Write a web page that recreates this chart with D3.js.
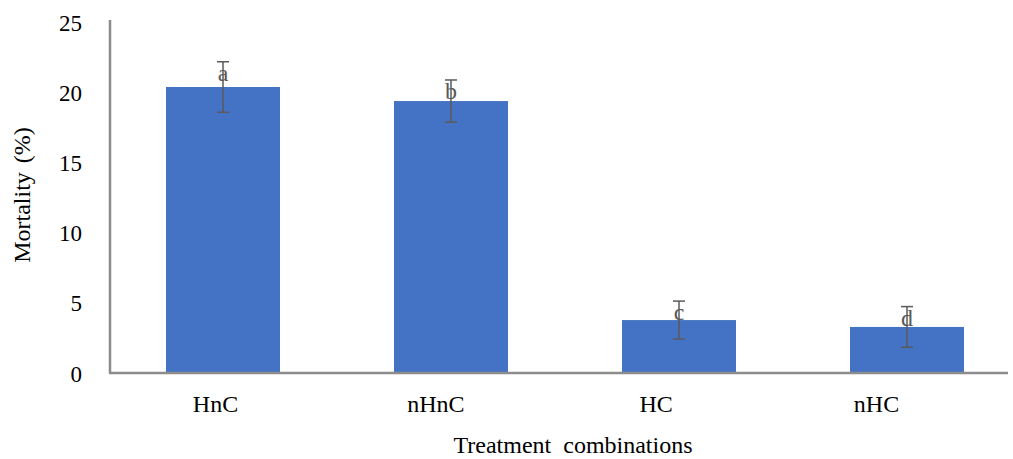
<!DOCTYPE html>
<html><head><meta charset="utf-8">
<script src="https://cdn.jsdelivr.net/npm/d3@7"></script>
<style>body{margin:0;background:#fff}</style>
</head><body>
<svg id="c" width="1013" height="459"></svg>
<script>
const categories = ["HnC", "nHnC", "HC", "nHC"];
const mortality = [20.37, 19.37, 3.77, 3.28];
const errors = [1.8, 1.5, 1.35, 1.45];
const letters = ["a", "b", "c", "d"];
const yTicks = [0, 5, 10, 15, 20, 25];

const svg = d3.select("#c");
const font = "'Liberation Serif','Times New Roman',serif";
const x = d3.scaleBand().domain(categories).range([109, 1021]).paddingInner(0.5).paddingOuter(0.25);
const xLab = d3.scalePoint().domain(categories).range([215, 876]);
const y = d3.scaleLinear().domain([0, 25]).range([373, 22]);

// bars
svg.selectAll("rect.bar").data(categories).join("rect")
  .attr("x", d => x(d)).attr("width", x.bandwidth())
  .attr("y", (d, i) => y(mortality[i]))
  .attr("height", (d, i) => y(0) - y(mortality[i]))
  .attr("fill", "#4472C4");

// axes
const yAxis = svg.append("g").attr("transform", "translate(110,0)")
  .call(d3.axisLeft(y).tickValues(yTicks).tickSize(0).tickPadding(28));
yAxis.select(".domain").attr("stroke", "#8c8c8c").attr("stroke-width", 2.5).attr("d", "M0,20V373");
yAxis.selectAll("text").attr("font-family", font).attr("font-size", 23).attr("fill", "#000").attr("dy", "0.35em");

const xAxis = svg.append("g").attr("transform", "translate(0,373)")
  .call(d3.axisBottom(xLab).tickSize(0).tickPadding(22));
xAxis.select(".domain").attr("stroke", "#8c8c8c").attr("stroke-width", 2.5).attr("d", "M109,0H1008");
xAxis.selectAll("text").attr("font-family", font).attr("font-size", 24).attr("fill", "#000");

// error bars
const cx = d => x(d) + x.bandwidth() / 2;
const eb = svg.append("g").attr("stroke", "#5a5a5a").attr("stroke-width", 1.5);
categories.forEach((d, i) => {
  const t = y(mortality[i] + errors[i]), b = y(mortality[i] - errors[i]);
  eb.append("line").attr("x1", cx(d)).attr("x2", cx(d)).attr("y1", t).attr("y2", b);
  eb.append("line").attr("x1", cx(d) - 6).attr("x2", cx(d) + 6).attr("y1", t).attr("y2", t);
  eb.append("line").attr("x1", cx(d) - 6).attr("x2", cx(d) + 6).attr("y1", b).attr("y2", b);
});

// letters
svg.selectAll("text.lt").data(categories).join("text")
  .attr("x", d => cx(d)).attr("y", (d, i) => y(mortality[i] + errors[i]) + 19)
  .attr("text-anchor", "middle").attr("font-family", font).attr("font-size", 24)
  .attr("fill", "#595959").text((d, i) => letters[i]);

// titles
svg.append("text").attr("transform", "translate(30,195) rotate(-90)")
  .attr("text-anchor", "middle").attr("font-family", font).attr("font-size", 24)
  .attr("word-spacing", 3).text("Mortality (%)");
svg.append("text").attr("x", 573).attr("y", 453)
  .attr("text-anchor", "middle").attr("font-family", font).attr("font-size", 24)
  .attr("word-spacing", 6).text("Treatment combinations");
</script>
</body></html>
